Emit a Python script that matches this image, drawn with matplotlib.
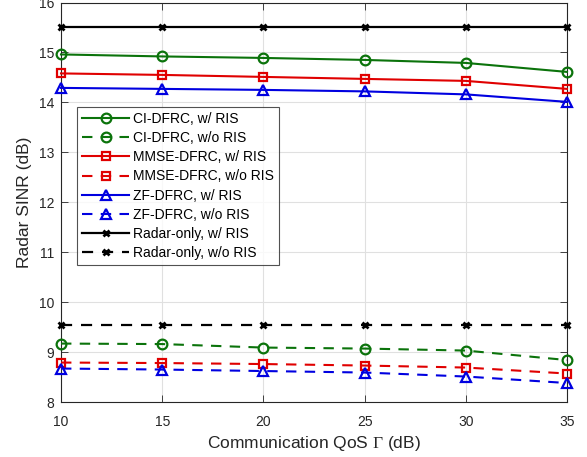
import matplotlib
matplotlib.use("Agg")
import matplotlib.pyplot as plt

plt.rcParams['font.family'] = ['Liberation Sans', 'DejaVu Sans']
plt.rcParams['mathtext.fontset'] = 'custom'
plt.rcParams['mathtext.rm'] = 'Liberation Serif'

qos = [10, 15, 20, 25, 30, 35]
ci_w = [14.96, 14.92, 14.89, 14.85, 14.79, 14.61]
ci_wo = [9.17, 9.16, 9.09, 9.07, 9.03, 8.84]
mmse_w = [14.58, 14.55, 14.51, 14.47, 14.43, 14.27]
mmse_wo = [8.79, 8.78, 8.76, 8.73, 8.69, 8.57]
zf_w = [14.29, 14.27, 14.25, 14.22, 14.16, 14.01]
zf_wo = [8.67, 8.65, 8.62, 8.59, 8.51, 8.38]
radar_w = [15.5, 15.5, 15.5, 15.5, 15.5, 15.5]
radar_wo = [9.55, 9.55, 9.55, 9.55, 9.55, 9.55]

labels = ["CI-DFRC, w/ RIS", "CI-DFRC, w/o RIS", "MMSE-DFRC, w/ RIS", "MMSE-DFRC, w/o RIS",
          "ZF-DFRC, w/ RIS", "ZF-DFRC, w/o RIS", "Radar-only, w/ RIS", "Radar-only, w/o RIS"]

fig = plt.figure(figsize=(5.87, 4.57), dpi=100)
ax = fig.add_axes([61/587, 1-402/457, 506/587, 399.5/457])

green = '#0b730b'
red = '#e00000'
blue = '#0000e0'
dash = (0, (5, 4))
series = [
    (ci_w, green, '-', 'o'), (ci_wo, green, dash, 'o'),
    (mmse_w, red, '-', 's'), (mmse_wo, red, dash, 's'),
    (zf_w, blue, '-', '^'), (zf_wo, blue, dash, '^'),
    (radar_w, 'black', '-', 'x'), (radar_wo, 'black', dash, 'x'),
]
sizes = {'o': 7, 's': 5.5, '^': 7.5}
for (vals, c, ls, m), lab in zip(series, labels):
    if m == 'x':
        ax.plot(qos, vals, color=c, linestyle=ls, linewidth=1.6, marker='x',
                markersize=4.5, markeredgewidth=2, label=lab, clip_on=False, zorder=3)
    else:
        ax.plot(qos, vals, color=c, linestyle=ls, linewidth=1.5, marker=m,
                markersize=sizes[m], markerfacecolor='none', markeredgewidth=1.6,
                label=lab, clip_on=False, zorder=3)

ax.set_xlim(10, 35)
ax.set_ylim(8, 16)
ax.set_xticks(qos)
ax.set_yticks(range(8, 17))
ax.grid(True, color='#e0e0e0', linewidth=0.8)
ax.set_axisbelow(True)
ax.tick_params(direction='in', length=5, width=0.6, labelsize=10, top=True, right=True,
               colors='#262626', labelcolor='#262626')
ax.tick_params(axis='x', pad=9)
ax.tick_params(axis='y', pad=5)
for s in ax.spines.values():
    s.set_linewidth(0.8)
    s.set_color('#262626')
ax.set_xlabel(r"Communication QoS $\Gamma$ (dB)", fontsize=12.5, color='#262626', labelpad=4)
ax.set_ylabel("Radar SINR (dB)", fontsize=12.5, color='#262626', labelpad=5)

leg = ax.legend(loc='upper left', bbox_to_anchor=(16/506, (402-107)/399.5), borderaxespad=0,
                fontsize=10, frameon=True, fancybox=False, edgecolor='#262626',
                handlelength=3.4, handletextpad=0.3, labelspacing=0.37, borderpad=0.36)
leg.get_frame().set_linewidth(0.8)

fig.savefig("out.png", dpi=100)
